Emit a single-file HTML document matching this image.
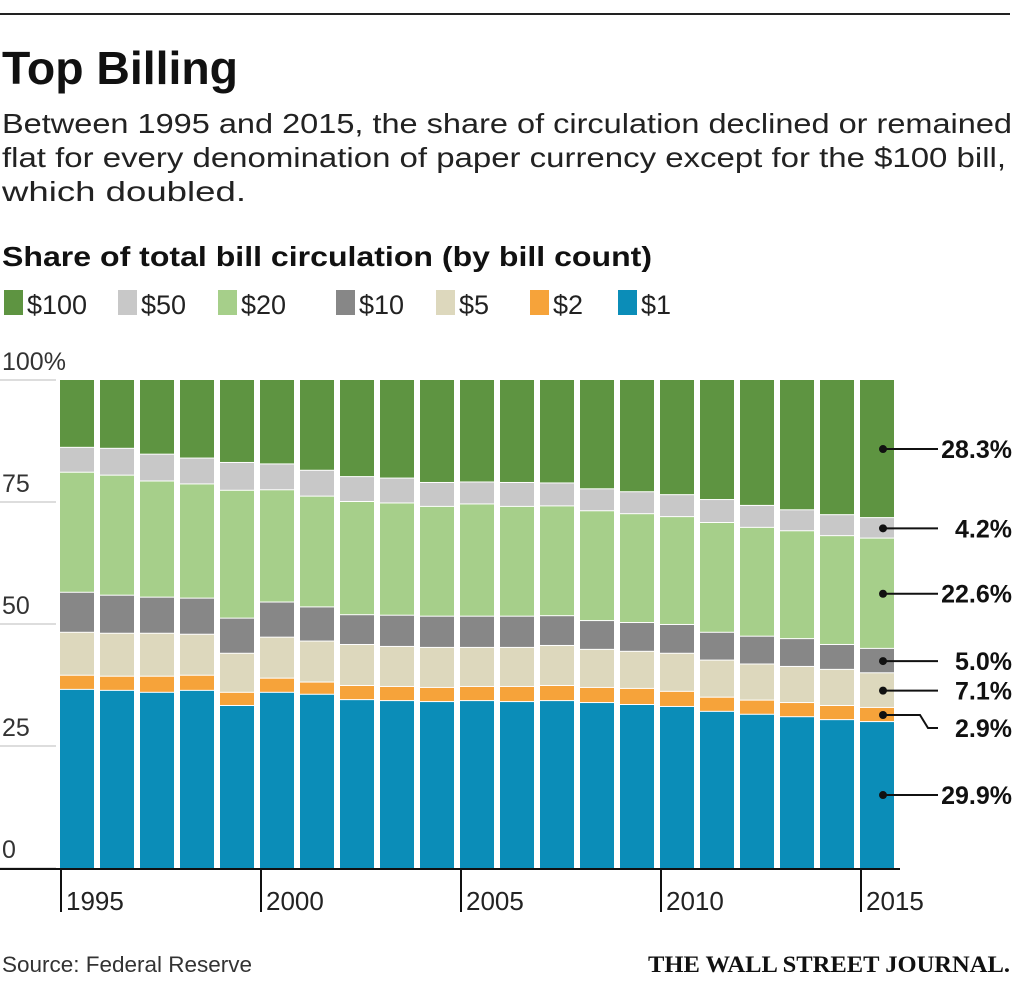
<!DOCTYPE html>
<html><head><meta charset="utf-8">
<style>
html,body{margin:0;padding:0;background:#fff;}
svg{display:block;font-family:"Liberation Sans",sans-serif;}
</style></head>
<body>
<svg id="chart" width="1024" height="981" viewBox="0 0 1024 981">
  <line x1="0" y1="14" x2="1010" y2="14" stroke="#222" stroke-width="2"/>
  <text x="2" y="84" font-size="46" font-weight="bold" fill="#111" textLength="236" lengthAdjust="spacingAndGlyphs">Top Billing</text>
  <text x="2" y="133" font-size="28" fill="#222" textLength="1010" lengthAdjust="spacingAndGlyphs">Between 1995 and 2015, the share of circulation declined or remained</text>
  <text x="2" y="167" font-size="28" fill="#222" textLength="1004" lengthAdjust="spacingAndGlyphs">flat for every denomination of paper currency except for the $100 bill,</text>
  <text x="2" y="201" font-size="28" fill="#222" textLength="244" lengthAdjust="spacingAndGlyphs">which doubled.</text>
  <text x="2" y="266" font-size="28" font-weight="bold" fill="#111" textLength="650" lengthAdjust="spacingAndGlyphs">Share of total bill circulation (by bill count)</text>
  <g id="legend"></g>
  <g id="grid"></g>
  <g id="bars"></g>
  <g id="xaxis"></g>
  <g id="annots"></g>
  <text x="2" y="972" font-size="22" fill="#333" textLength="250" lengthAdjust="spacingAndGlyphs">Source: Federal Reserve</text>
  <text x="1010" y="972" font-size="23" font-weight="bold" text-anchor="end" font-family="Liberation Serif, serif" fill="#111" textLength="362" lengthAdjust="spacingAndGlyphs">THE WALL STREET JOURNAL.</text>
</svg>
<script>
const years = [1995,1996,1997,1998,1999,2000,2001,2002,2003,2004,2005,2006,2007,2008,2009,2010,2011,2012,2013,2014,2015];
const seriesNames = ['$1','$2','$5','$10','$20','$50','$100'];
const ones  = [36.5,36.3,35.9,36.3,33.2,35.9,35.5,34.4,34.2,34.0,34.2,34.0,34.2,33.8,33.4,33.0,32.0,31.4,30.9,30.3,29.9];
const twos  = [2.9,2.9,3.3,3.1,2.7,2.9,2.5,2.9,2.9,2.9,2.9,3.1,3.1,3.1,3.3,3.1,2.9,2.9,2.9,2.9,2.9];
const fives = [8.8,8.8,8.8,8.4,8.0,8.4,8.4,8.4,8.2,8.2,8.0,8.0,8.2,7.8,7.6,7.8,7.6,7.4,7.4,7.4,7.1];
const tens  = [8.2,7.8,7.4,7.4,7.2,7.2,7.0,6.1,6.4,6.4,6.4,6.4,6.1,5.9,5.9,5.9,5.7,5.7,5.7,5.1,5.0];
const twenties = [24.6,24.6,23.8,23.4,26.2,23.0,22.7,23.2,23.0,22.5,23.0,22.5,22.5,22.5,22.3,22.1,22.5,22.3,22.1,22.3,22.6];
const fifties  = [5.1,5.5,5.5,5.3,5.7,5.3,5.3,5.1,5.1,4.9,4.5,4.9,4.7,4.5,4.5,4.5,4.7,4.5,4.3,4.3,4.2];
const hundreds = [13.9,14.1,15.3,16.1,17.0,17.3,18.6,19.9,20.2,21.1,21.0,21.1,21.2,22.4,23.0,23.6,24.6,25.8,26.7,27.7,28.3];
const yTicks = [0,25,50,75,100];
const yTickLabels = ['0','25','50','75','100%'];
const xTickYears = [1995,2000,2005,2010,2015];
const colors = ['#0b8db8','#f6a33a','#ddd8bd','#878787','#a6cf8a','#c8c8c8','#5e9441'];
const allSeries = [ones,twos,fives,tens,twenties,fifties,hundreds];
const legendOrder = [6,5,4,3,2,1,0];

const NS='http://www.w3.org/2000/svg';
function mk(tag,attrs,parent){const e=document.createElementNS(NS,tag);for(const k in attrs)e.setAttribute(k,attrs[k]);parent.appendChild(e);return e;}
const y0=868, pxPer=4.88;
const yScale=v=>y0-v*pxPer;
const xStart=60, pitch=40, barW=34;
const xScale=i=>xStart+i*pitch;

const lg=document.getElementById('legend');
const legendX=[4,118,218,336,436,530,618];
legendOrder.forEach((s,k)=>{
  const g=mk('g',{},lg);
  
  
  mk('rect',{x:legendX[k],y:290,width:19,height:25,fill:colors[s]},g);
  const t=mk('text',{x:legendX[k]+23,y:314,'font-size':27,fill:'#222'},g);
  t.textContent=seriesNames[s];
});

const gr=document.getElementById('grid');
yTicks.forEach((v,i)=>{
  const l=mk('line',{x1:0,x2:56,y1:yScale(v),y2:yScale(v),stroke:'#bbb','stroke-width':1},gr);
  
  
  const t=mk('text',{x:2,y:yScale(v)-10,'font-size':25,fill:'#333'},gr);
  
  
  t.textContent=yTickLabels[i];
});

const bg=document.getElementById('bars');
years.forEach((yr,i)=>{
  let cum=0;
  allSeries.forEach((arr,s)=>{
    const v=arr[i];
    const top=yScale(cum+v), bot=yScale(cum);
    const r=mk('rect',{x:xScale(i),y:top,width:barW,height:Math.max(0,bot-top-(s>0?1:0)),fill:colors[s]},bg);
    
    
    cum+=v;
  });
});

const xa=document.getElementById('xaxis');
mk('line',{x1:0,x2:900,y1:y0+1,y2:y0+1,stroke:'#111','stroke-width':2},xa);
xTickYears.forEach(yr=>{
  const i=years.indexOf(yr);
  const x=xScale(i)+1;
  mk('line',{x1:x,x2:x,y1:y0,y2:912,stroke:'#111','stroke-width':2},xa);
  const t=mk('text',{x:x+5,y:910,'font-size':26,fill:'#222'},xa);
  
  
  t.textContent=yr;
});

const an=document.getElementById('annots');
const last=years.length-1;
const labelY=[795,728,690,660,595,525,452];
let cum=0;
allSeries.forEach((arr,s)=>{
  const v=arr[last];
  const mid=yScale(cum+v/2);
  cum+=v;
  const cx=883;
  let ly=labelY[s];
  if(Math.abs(ly-mid)<=6) ly=mid;
  mk('circle',{cx:cx,cy:mid,r:4,fill:'#111'},an);
  if(ly!==mid){
    mk('polyline',{points:`${cx},${mid} 920,${mid} 928,${ly} 938,${ly}`,fill:'none',stroke:'#111','stroke-width':2},an);
  } else {
    mk('line',{x1:cx,x2:938,y1:mid,y2:mid,stroke:'#111','stroke-width':2},an);
  }
  const t=mk('text',{x:1012,y:ly+9,'font-size':25,'font-weight':'bold','text-anchor':'end',fill:'#111'},an);
  
  
  t.textContent=v.toFixed(1)+'%';
});
</script>
</body></html>
